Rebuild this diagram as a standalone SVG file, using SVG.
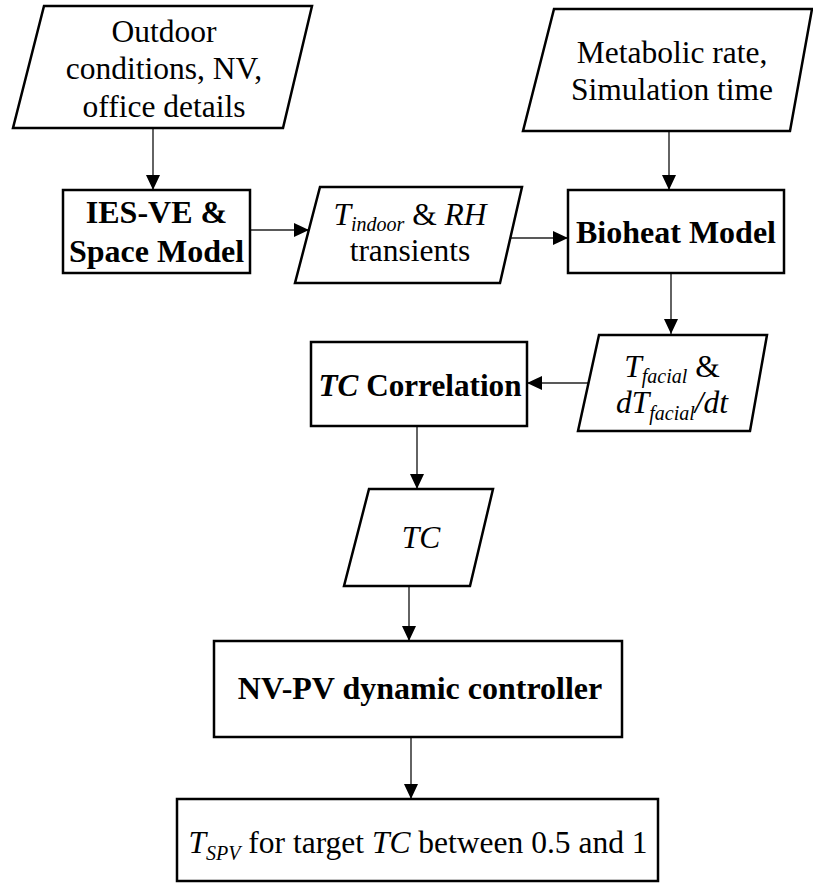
<svg xmlns="http://www.w3.org/2000/svg" width="813" height="883" viewBox="0 0 813 883">
<defs>
<style>
.shape{fill:#fff;stroke:#000;stroke-width:2.5;stroke-linejoin:miter}
.conn{stroke:#222;stroke-width:1.4;fill:none}
text{font-family:'Liberation Serif','Times New Roman',serif;fill:#000;text-anchor:middle}
.t{font-size:31.5px}
.b{font-size:32px;font-weight:bold}
.i{font-style:italic}
.sub{font-size:20px;font-style:italic}
</style>
<marker id="ah" markerUnits="userSpaceOnUse" markerWidth="16" markerHeight="14" refX="15" refY="7" orient="auto">
<path d="M0,0 L15,7 L0,14 Z" fill="#000"/>
</marker>
</defs>
<rect width="813" height="883" fill="#fff"/>

<g id="connectors">
<line class="conn" x1="153" y1="129" x2="153" y2="190" marker-end="url(#ah)"/>
<line class="conn" x1="250" y1="230" x2="309" y2="230" marker-end="url(#ah)"/>
<line class="conn" x1="510" y1="238" x2="568" y2="238" marker-end="url(#ah)"/>
<line class="conn" x1="669" y1="132" x2="669" y2="190" marker-end="url(#ah)"/>
<line class="conn" x1="671" y1="274" x2="671" y2="334" marker-end="url(#ah)"/>
<line class="conn" x1="588" y1="383" x2="527" y2="383" marker-end="url(#ah)"/>
<line class="conn" x1="417" y1="427" x2="417" y2="489" marker-end="url(#ah)"/>
<line class="conn" x1="409" y1="587" x2="409" y2="641" marker-end="url(#ah)"/>
<line class="conn" x1="411" y1="738" x2="411" y2="799" marker-end="url(#ah)"/>
</g>

<g id="outdoor">
<polygon class="shape" points="44,6 312,6 283,128 13,128"/>
<text class="t" x="164" y="42">Outdoor</text>
<text class="t" x="164" y="79">conditions, NV,</text>
<text class="t" x="164" y="117">office details</text>
</g>

<g id="metabolic">
<polygon class="shape" points="554,9 812,9 790,131 523,131"/>
<text class="t" x="672" y="63">Metabolic rate,</text>
<text class="t" x="672" y="100">Simulation time</text>
</g>

<g id="ies">
<rect class="shape" x="63" y="190" width="187" height="83"/>
<text class="b" x="156.5" y="223">IES-VE &amp;</text>
<text class="b" x="156.5" y="262">Space Model</text>
</g>

<g id="tindoor">
<polygon class="shape" points="320,187 522,187 500,283 295,283"/>
<text class="t" x="410" y="225"><tspan class="i">T</tspan><tspan class="sub" dy="6">indoor</tspan><tspan dy="-6"> &amp; </tspan><tspan class="i">RH</tspan></text>
<text class="t" x="410" y="261">transients</text>
</g>

<g id="bioheat">
<rect class="shape" x="568" y="190" width="216" height="83"/>
<text class="b" x="676" y="243">Bioheat Model</text>
</g>

<g id="tfacial">
<polygon class="shape" points="599,335 767,335 750,431 578,431"/>
<text class="t" x="672" y="377"><tspan class="i">T</tspan><tspan class="sub" dy="6">facial</tspan><tspan dy="-6"> &amp;</tspan></text>
<text class="t" x="672" y="413"><tspan class="i">dT</tspan><tspan class="sub" dy="7">facial</tspan><tspan class="i" dy="-7">/dt</tspan></text>
</g>

<g id="tccorr">
<rect class="shape" x="311" y="342" width="216" height="84"/>
<text class="b" x="420" y="396" font-size="31" textLength="203" lengthAdjust="spacingAndGlyphs"><tspan class="i">TC</tspan> Correlation</text>
</g>

<g id="tc">
<polygon class="shape" points="369,489 493,489 470,586 344,586"/>
<text class="t i" x="421" y="548">TC</text>
</g>

<g id="controller">
<rect class="shape" x="214" y="641" width="408" height="96"/>
<text class="b" x="420" y="699">NV-PV dynamic controller</text>
</g>

<g id="output">
<rect class="shape" x="177" y="799" width="481" height="82"/>
<text class="t" x="418" y="853"><tspan class="i">T</tspan><tspan class="sub" dy="7">SPV</tspan><tspan dy="-7"> for target </tspan><tspan class="i">TC</tspan> between 0.5 and 1</text>
</g>
</svg>
